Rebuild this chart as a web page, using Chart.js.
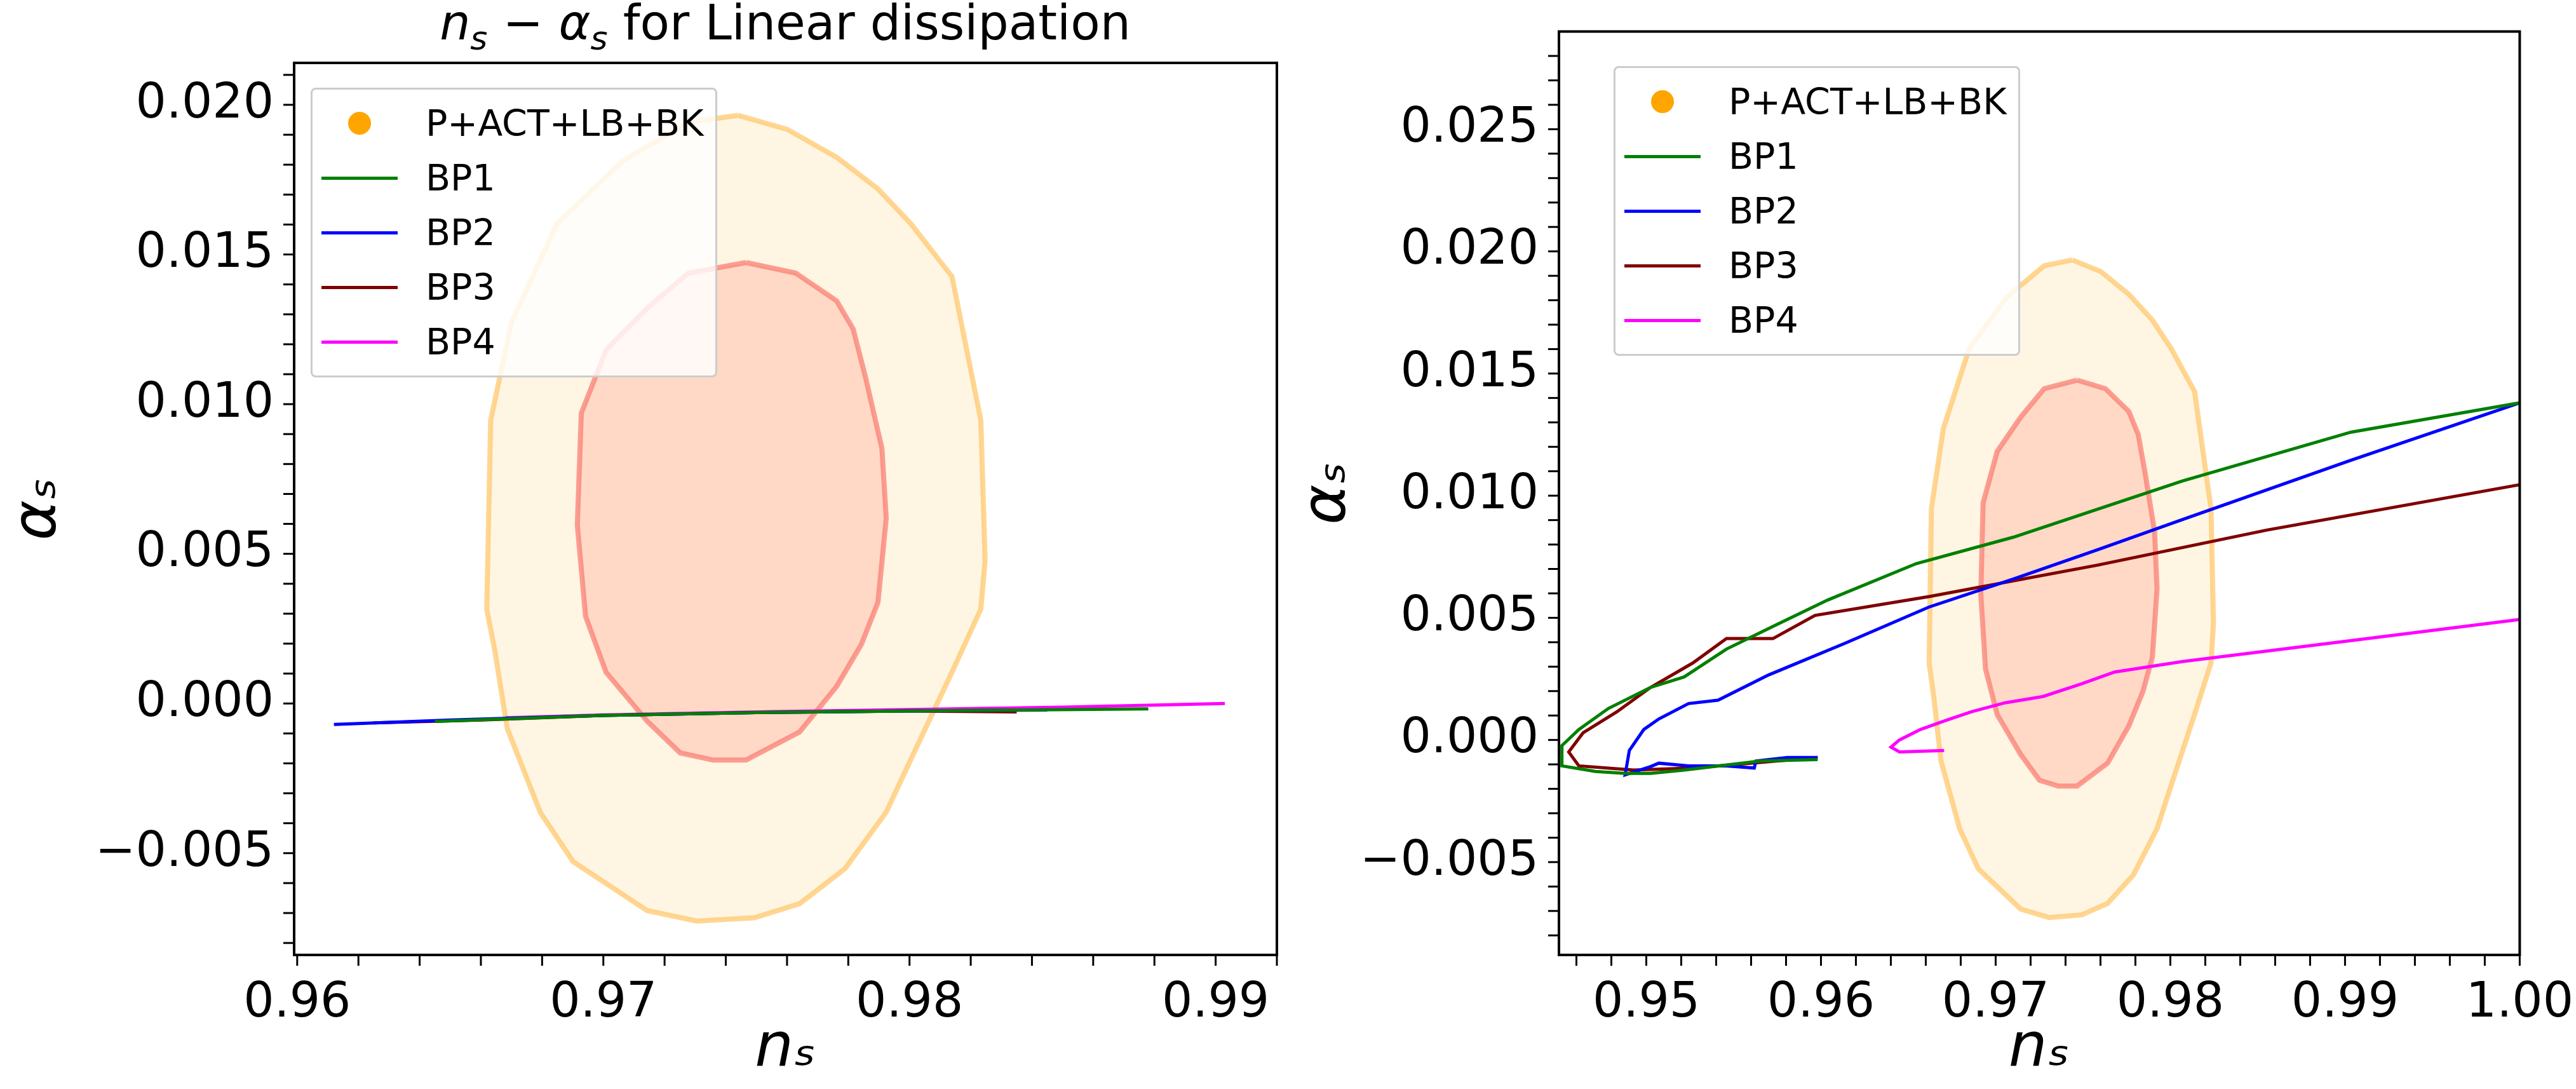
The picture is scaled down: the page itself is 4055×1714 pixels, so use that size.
<!DOCTYPE html>
<html>
<head>
<meta charset="utf-8">
<script src="https://cdn.jsdelivr.net/npm/chart.js@4.4.1/dist/chart.umd.min.js"></script>
<style>
  body { margin: 0; background: #fff; font-family: "DejaVu Sans", sans-serif; }
  .panel { position: absolute; top: 0; height: 1714px; }
  .legend { position: absolute; background: rgba(255,255,255,0.8); border: 3px solid #ccc; border-radius: 8px; padding: 10px 18px 10px 14px; font-size: 57px; }
  .legend div { display: flex; align-items: center; height: 86px; }
  .legend .sw { width: 120px; display: flex; justify-content: center; margin-right: 44px; }
  .title { position: absolute; font-size: 76px; white-space: nowrap; }
</style>
</head>
<body>
<div class="panel" style="left:0;width:2030px"><canvas id="left"></canvas></div>
<div class="panel" style="left:2030px;width:2025px"><canvas id="right"></canvas></div>
<div class="title" style="left:1236px;top:90px;transform:translate(-50%,-100%)"><i>n<sub style="font-size:52px">s</sub></i> &minus; <i>α<sub style="font-size:52px">s</sub></i> for Linear dissipation</div>
<div class="legend" id="legL" style="left:489px;top:138px"></div>
<div class="legend" id="legR" style="left:2540px;top:104px"></div>
<script>
// contour levels (n_s, alpha_s)
const outerNs = [0.97439,0.97601,0.97763,0.97897,0.98005,0.98139,0.98233,0.98247,0.98233,0.98139,0.98031,0.97924,0.97789,0.97641,0.97493,0.97305,0.97143,0.96901,0.96794,0.96686,0.96646,0.96619,0.96632,0.96700,0.96848,0.97063,0.97278];
const outerAs = [0.01965,0.01918,0.01824,0.01719,0.01602,0.01426,0.00946,0.00478,0.00315,0.00105,-0.00129,-0.00363,-0.00552,-0.00669,-0.00716,-0.00727,-0.00692,-0.00528,-0.00364,-0.00083,0.00174,0.00315,0.00947,0.01274,0.01602,0.01813,0.01941];
const innerNs = [0.97466,0.97628,0.97762,0.97816,0.97857,0.97910,0.97924,0.97897,0.97843,0.97762,0.97641,0.97466,0.97359,0.97251,0.97144,0.97009,0.96942,0.96915,0.96928,0.97009,0.97143,0.97278];
const innerAs = [0.01473,0.01438,0.01345,0.01251,0.01087,0.00852,0.00619,0.00338,0.00198,0.00057,-0.00095,-0.00189,-0.00189,-0.00165,-0.00060,0.00104,0.00291,0.00596,0.00970,0.01181,0.01321,0.01438];

// left panel: linear dissipation
const linBP1Ns = [0.9645,0.970,0.975,0.980,0.9878];
const linBP1As = [-0.00060,-0.00040,-0.00030,-0.00025,-0.00018];
const linBP2Ns = [0.9612,0.965,0.970,0.975,0.980,0.9845];
const linBP2As = [-0.00070,-0.00055,-0.00040,-0.00030,-0.00025,-0.00022];
const linBP3Ns = [0.9625,0.966,0.970,0.975,0.980,0.9835];
const linBP3As = [-0.00065,-0.00055,-0.00040,-0.00030,-0.00025,-0.00028];
const linBP4Ns = [0.9668,0.970,0.975,0.980,0.985,0.9903];
const linBP4As = [-0.00048,-0.00038,-0.00028,-0.00020,-0.00012,0.00000];

// right panel
const bp1Ns = [0.95981,0.95652,0.95217,0.95024,0.94879,0.94710,0.94517,0.94517,0.94614,0.94783,0.95024,0.95217,0.95459,0.95749,0.96039,0.96546,0.97101,0.98068,0.99034,1.0];
const bp1As = [-0.00080,-0.00086,-0.00123,-0.00137,-0.00137,-0.00129,-0.00106,-0.00023,0.00043,0.00129,0.00215,0.00258,0.00372,0.00473,0.00573,0.00722,0.00830,0.01060,0.01260,0.01380];
const bp2Ns = [0.95981,0.95807,0.95628,0.95618,0.95459,0.95242,0.95072,0.95024,0.94879,0.94903,0.94986,0.95072,0.95242,0.95411,0.95700,0.96135,0.96618,0.97101,0.97585,0.98068,0.99034,1.0];
const bp2As = [-0.00072,-0.00072,-0.00086,-0.00115,-0.00106,-0.00106,-0.00095,-0.00109,-0.00143,-0.00043,0.00043,0.00086,0.00149,0.00163,0.00266,0.00395,0.00544,0.00659,0.00779,0.00902,0.01145,0.01380];
const bp3Ns = [0.95981,0.95652,0.95266,0.94928,0.94614,0.94556,0.94638,0.94831,0.95024,0.95266,0.95459,0.95725,0.95966,0.96618,0.97585,0.98551,1.0];
const bp3As = [-0.00072,-0.00092,-0.00115,-0.00123,-0.00106,-0.00049,0.00029,0.00115,0.00215,0.00315,0.00415,0.00415,0.00510,0.00587,0.00716,0.00859,0.01045];
const bp4Ns = [0.96705,0.96449,0.96401,0.96449,0.96570,0.96715,0.96860,0.97053,0.97271,0.97488,0.97681,0.98068,0.99034,1.0];
const bp4As = [-0.00043,-0.00049,-0.00029,0,0.00043,0.00080,0.00115,0.00152,0.00178,0.00229,0.00278,0.00321,0.00407,0.00493];

const leftXTicks = [0.96,0.97,0.98,0.99];
const leftYTicks = [-0.005,0,0.005,0.010,0.015,0.020];
const rightXTicks = [0.95,0.96,0.97,0.98,0.99,1.00];
const rightYTicks = [-0.005,0,0.005,0.010,0.015,0.020,0.025];

const seriesNames = ['P+ACT+LB+BK','BP1','BP2','BP3','BP4'];
const seriesColors = ['orange','green','blue','#800000','magenta'];

const pts = (xs, ys) => xs.map((x, i) => ({x: x, y: ys[i]}));

function contourSets() {
  return [
    {data: pts(outerNs, outerAs).concat([{x: outerNs[0], y: outerAs[0]}]), borderColor: 'rgba(255,200,110,0.75)', backgroundColor: 'rgba(255,235,200,0.5)', fill: 'shape', borderWidth: 8, order: 3},
    {data: pts(innerNs, innerAs).concat([{x: innerNs[0], y: innerAs[0]}]), borderColor: 'rgba(250,120,110,0.7)', backgroundColor: 'rgba(255,190,170,0.5)', fill: 'shape', borderWidth: 8, order: 2}
  ];
}
function lineSet(xs, ys, c) {
  return {data: pts(xs, ys), borderColor: c, borderWidth: 5, fill: false, order: 1};
}

// minor ticks + frame drawn through the library scales
const frame = {
  id: 'frame',
  afterDraw(chart, args, opts) {
    const c = chart.ctx, a = chart.chartArea, sx = chart.scales.x, sy = chart.scales.y;
    c.save();
    c.strokeStyle = '#000';
    c.lineWidth = 4;
    c.strokeRect(a.left, a.top, a.right - a.left, a.bottom - a.top);
    c.lineWidth = 3;
    for (let v = Math.ceil(sx.min / opts.mx) * opts.mx; v <= sx.max; v += opts.mx) {
      const p = sx.getPixelForValue(v);
      c.beginPath(); c.moveTo(p, a.bottom); c.lineTo(p, a.bottom + 17); c.stroke();
    }
    for (let v = Math.ceil(sy.min / opts.my) * opts.my; v <= sy.max; v += opts.my) {
      const p = sy.getPixelForValue(v);
      c.beginPath(); c.moveTo(a.left, p); c.lineTo(a.left - 17, p); c.stroke();
    }
    c.restore();
  }
};

function makeChart(id, sets, xr, yr, xt, yt, yw, pad, xfmt, yfmt) {
  return new Chart(document.getElementById(id), {
    type: 'scatter',
    data: {datasets: sets},
    options: {
      responsive: false,
      animation: false,
      showLine: true,
      elements: {point: {radius: 0}, line: {tension: 0}},
      layout: {padding: pad},
      plugins: {legend: {display: false}, tooltip: {enabled: false}, frame: {mx: 0.002, my: 0.001}},
      scales: {
        x: {
          min: xr[0], max: xr[1],
          afterBuildTicks: s => { s.ticks = xt.map(v => ({value: v})); },
          afterFit: s => { s.height = 211; },
          grid: {display: false, drawTicks: true, tickLength: 28, tickWidth: 3, color: '#000'},
          border: {display: false},
          ticks: {color: '#000', font: {size: 76, family: 'DejaVu Sans'}, padding: 4, maxRotation: 0, callback: xfmt},
          title: {display: true, text: 'nₛ', color: '#000', font: {size: 96, style: 'italic', family: 'DejaVu Sans'}, padding: {top: 0}}
        },
        y: {
          min: yr[0], max: yr[1],
          afterBuildTicks: s => { s.ticks = yt.map(v => ({value: v})); },
          afterFit: s => { s.width = yw; },
          grid: {display: false, drawTicks: true, tickLength: 28, tickWidth: 3, color: '#000'},
          border: {display: false},
          ticks: {color: '#000', font: {size: 76, family: 'DejaVu Sans'}, padding: 4, callback: yfmt},
          title: {display: true, text: 'αₛ', color: '#000', font: {size: 96, style: 'italic', family: 'DejaVu Sans'}, padding: {bottom: 4}}
        }
      }
    },
    plugins: [frame]
  });
}

const fmtY = v => (v < 0 ? '\u2212' : '') + Math.abs(v).toFixed(3);
const fmtX2 = v => v.toFixed(2);

const L = document.getElementById('left');
L.width = 2030; L.height = 1714;
makeChart('left', contourSets().concat([
  lineSet(linBP1Ns, linBP1As, seriesColors[1]),
  lineSet(linBP2Ns, linBP2As, seriesColors[2]),
  lineSet(linBP3Ns, linBP3As, seriesColors[3]),
  lineSet(linBP4Ns, linBP4As, seriesColors[4])
]), [0.9599, 0.9920], [-0.0084, 0.0214], leftXTicks, leftYTicks, 463, {top: 99, right: 20, left: 0}, fmtX2, fmtY);

const R = document.getElementById('right');
R.width = 2025; R.height = 1714;
makeChart('right', contourSets().concat([
  lineSet(bp1Ns, bp1As, seriesColors[1]),
  lineSet(bp2Ns, bp2As, seriesColors[2]),
  lineSet(bp3Ns, bp3As, seriesColors[3]),
  lineSet(bp4Ns, bp4As, seriesColors[4])
]), [0.945, 1.0], [-0.0088, 0.029], rightXTicks, rightYTicks, 424, {top: 44, right: 65, left: 0}, fmtX2, fmtY);

function buildLegend(id) {
  const el = document.getElementById(id);
  seriesNames.forEach((n, i) => {
    const row = document.createElement('div');
    const sw = document.createElement('span');
    sw.className = 'sw';
    sw.innerHTML = i === 0
      ? '<span style="display:inline-block;width:36px;height:36px;border-radius:50%;background:' + seriesColors[0] + '"></span>'
      : '<span style="display:inline-block;width:124px;height:5px;background:' + seriesColors[i] + '"></span>';
    row.appendChild(sw);
    row.appendChild(document.createTextNode(n));
    el.appendChild(row);
  });
}
buildLegend('legL');
buildLegend('legR');
</script>
</body>
</html>
